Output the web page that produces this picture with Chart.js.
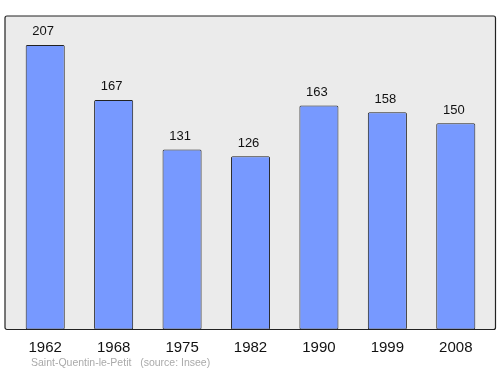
<!DOCTYPE html>
<html><head><meta charset="utf-8">
<script src="https://cdn.jsdelivr.net/npm/chart.js@4"></script>
<style>html,body{margin:0;padding:0;background:#fff}#w{width:500px;height:374px}</style>
</head><body><div id="w"><canvas id="c"></canvas></div>
<script>
const years = ["1962","1968","1975","1982","1990","1999","2008"];
const population = [207,167,131,126,163,158,150];
const sourceText = "Saint-Quentin-le-Petit   (source: Insee)";
const FONT = "'Liberation Sans', Arial, sans-serif";

const bgPlugin = {
  id: 'bg',
  beforeDraw(chart) {
    const {ctx, chartArea: a} = chart;
    ctx.save();
    const x = a.left - 6, y = a.top, w = a.right - a.left + 11.5, h = a.bottom - a.top;
    ctx.fillStyle = '#ebebeb';
    ctx.strokeStyle = '#222';
    ctx.lineWidth = 1.2;
    ctx.beginPath();
    ctx.roundRect(x, y, w, h, 2);
    ctx.fill();
    ctx.stroke();
    ctx.restore();
  },
  afterDatasetsDraw(chart) {
    const {ctx} = chart;
    const meta = chart.getDatasetMeta(0);
    ctx.save();
    ctx.fillStyle = '#111';
    ctx.font = "13px " + FONT;
    ctx.textAlign = 'center';
    ctx.textBaseline = 'middle';
    meta.data.forEach((el, i) => {
      ctx.fillText(String(population[i]), el.x - 2, el.y - 13);
    });
    ctx.fillStyle = '#aaa';
    ctx.font = "10.5px " + FONT;
    ctx.textAlign = 'left';
    ctx.fillText(sourceText, 31, 363);
    ctx.restore();
  }
};

new Chart(document.getElementById('c'), {
  type: 'bar',
  data: {
    labels: years,
    datasets: [{
      data: population,
      backgroundColor: '#7799ff',
      borderColor: '#222',
      borderWidth: 1,
      borderRadius: 1.5,
      borderSkipped: false,
      categoryPercentage: 1,
      barPercentage: 0.571
    }]
  },
  options: {
    responsive: true,
    maintainAspectRatio: false,
    animation: false,
    layout: { padding: { left: 11, right: 10, top: 16, bottom: 8.5 } },
    plugins: { legend: { display: false }, tooltip: { enabled: false } },
    scales: {
      x: {
        grid: { display: false, drawTicks: false },
        border: { display: false },
        ticks: { color: '#111', font: { family: FONT, size: 15 }, padding: 9, maxRotation: 0 }
      },
      y: { display: false, min: 0, max: 228 }
    }
  },
  plugins: [bgPlugin]
});
</script></body></html>
